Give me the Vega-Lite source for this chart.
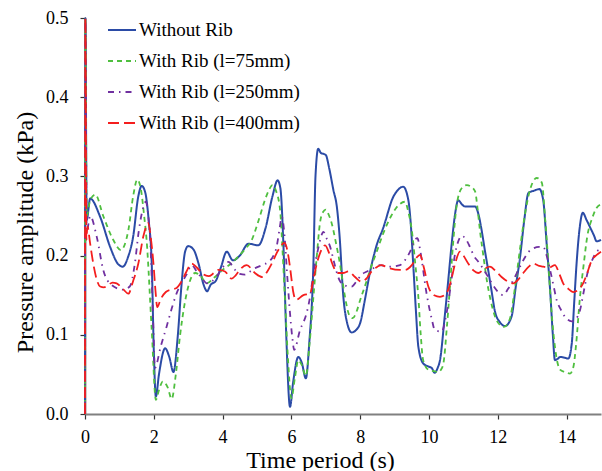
{
"$schema": "https://vega.github.io/schema/vega-lite/v6.json",
"width": 516,
"height": 396,
"autosize": {"type": "none"},
"padding": {"left": 85, "top": 18, "right": 1, "bottom": 57},
"background": "white",
"config": {"view": {"stroke": null}, "font": "Liberation Serif",
  "legend": {"labelFont": "Liberation Serif", "labelFontSize": 19, "labelColor": "black", "symbolType": "stroke", "symbolSize": 784, "symbolStrokeWidth": 1.8, "rowPadding": 6, "labelOffset": 2, "padding": 0, "labelLimit": 300}},
"datasets": {
"noRib": [{"t":0,"p":0},{"t":0.01,"p":0.5},{"t":0.05,"p":0.245},{"t":0.15,"p":0.272},{"t":0.44,"p":0.249},{"t":0.73,"p":0.211},{"t":0.95,"p":0.19},{"t":1.1,"p":0.186},{"t":1.25,"p":0.198},{"t":1.4,"p":0.224},{"t":1.55,"p":0.275},{"t":1.65,"p":0.288},{"t":1.75,"p":0.28},{"t":1.85,"p":0.245},{"t":1.94,"p":0.19},{"t":2.0,"p":0.08},{"t":2.06,"p":0.022},{"t":2.15,"p":0.05},{"t":2.33,"p":0.083},{"t":2.45,"p":0.072},{"t":2.57,"p":0.053},{"t":2.7,"p":0.1},{"t":2.8,"p":0.16},{"t":2.91,"p":0.205},{"t":3.0,"p":0.212},{"t":3.15,"p":0.208},{"t":3.3,"p":0.19},{"t":3.45,"p":0.163},{"t":3.55,"p":0.155},{"t":3.65,"p":0.163},{"t":3.8,"p":0.168},{"t":3.95,"p":0.185},{"t":4.12,"p":0.205},{"t":4.3,"p":0.194},{"t":4.5,"p":0.2},{"t":4.75,"p":0.215},{"t":5.04,"p":0.213},{"t":5.25,"p":0.235},{"t":5.45,"p":0.275},{"t":5.6,"p":0.295},{"t":5.68,"p":0.285},{"t":5.77,"p":0.211},{"t":5.85,"p":0.1},{"t":5.96,"p":0.009},{"t":6.05,"p":0.04},{"t":6.2,"p":0.072},{"t":6.3,"p":0.065},{"t":6.42,"p":0.045},{"t":6.52,"p":0.09},{"t":6.64,"p":0.19},{"t":6.7,"p":0.3},{"t":6.78,"p":0.335},{"t":6.85,"p":0.33},{"t":7.0,"p":0.327},{"t":7.1,"p":0.31},{"t":7.22,"p":0.283},{"t":7.32,"p":0.262},{"t":7.4,"p":0.225},{"t":7.51,"p":0.148},{"t":7.62,"p":0.115},{"t":7.75,"p":0.103},{"t":7.88,"p":0.106},{"t":8.0,"p":0.115},{"t":8.14,"p":0.145},{"t":8.28,"p":0.178},{"t":8.47,"p":0.212},{"t":8.67,"p":0.235},{"t":8.96,"p":0.274},{"t":9.1,"p":0.283},{"t":9.25,"p":0.287},{"t":9.4,"p":0.27},{"t":9.47,"p":0.24},{"t":9.54,"p":0.19},{"t":9.62,"p":0.13},{"t":9.69,"p":0.085},{"t":9.83,"p":0.064},{"t":9.98,"p":0.06},{"t":10.08,"p":0.058},{"t":10.16,"p":0.052},{"t":10.25,"p":0.058},{"t":10.32,"p":0.068},{"t":10.45,"p":0.12},{"t":10.56,"p":0.169},{"t":10.66,"p":0.215},{"t":10.76,"p":0.253},{"t":10.85,"p":0.27},{"t":10.95,"p":0.265},{"t":11.05,"p":0.262},{"t":11.2,"p":0.262},{"t":11.34,"p":0.262},{"t":11.45,"p":0.25},{"t":11.53,"p":0.232},{"t":11.63,"p":0.205},{"t":11.72,"p":0.182},{"t":11.82,"p":0.155},{"t":11.92,"p":0.129},{"t":12.06,"p":0.116},{"t":12.21,"p":0.111},{"t":12.4,"p":0.123},{"t":12.52,"p":0.16},{"t":12.65,"p":0.199},{"t":12.77,"p":0.245},{"t":12.89,"p":0.279},{"t":13.05,"p":0.282},{"t":13.21,"p":0.284},{"t":13.32,"p":0.27},{"t":13.42,"p":0.215},{"t":13.52,"p":0.157},{"t":13.6,"p":0.1},{"t":13.66,"p":0.068},{"t":13.75,"p":0.07},{"t":13.81,"p":0.072},{"t":13.95,"p":0.071},{"t":14.05,"p":0.07},{"t":14.15,"p":0.089},{"t":14.22,"p":0.14},{"t":14.29,"p":0.19},{"t":14.38,"p":0.235},{"t":14.47,"p":0.254},{"t":14.58,"p":0.245},{"t":14.68,"p":0.236},{"t":14.8,"p":0.225},{"t":14.87,"p":0.218},{"t":15,"p":0.22}],
"rib75": [{"t":0,"p":0},{"t":0.01,"p":0.5},{"t":0.05,"p":0.25},{"t":0.15,"p":0.27},{"t":0.3,"p":0.277},{"t":0.53,"p":0.25},{"t":0.82,"p":0.22},{"t":1.04,"p":0.207},{"t":1.26,"p":0.232},{"t":1.4,"p":0.275},{"t":1.52,"p":0.296},{"t":1.62,"p":0.285},{"t":1.72,"p":0.25},{"t":1.79,"p":0.22},{"t":1.94,"p":0.106},{"t":2.06,"p":0.018},{"t":2.15,"p":0.03},{"t":2.26,"p":0.041},{"t":2.4,"p":0.034},{"t":2.52,"p":0.019},{"t":2.64,"p":0.05},{"t":2.76,"p":0.098},{"t":2.9,"p":0.14},{"t":3.05,"p":0.168},{"t":3.2,"p":0.178},{"t":3.35,"p":0.175},{"t":3.54,"p":0.165},{"t":3.75,"p":0.172},{"t":4.0,"p":0.182},{"t":4.25,"p":0.19},{"t":4.46,"p":0.199},{"t":4.65,"p":0.208},{"t":4.85,"p":0.22},{"t":5.05,"p":0.245},{"t":5.23,"p":0.27},{"t":5.35,"p":0.283},{"t":5.45,"p":0.289},{"t":5.55,"p":0.282},{"t":5.67,"p":0.258},{"t":5.75,"p":0.2},{"t":5.81,"p":0.148},{"t":5.9,"p":0.07},{"t":6.0,"p":0.02},{"t":6.1,"p":0.045},{"t":6.2,"p":0.068},{"t":6.3,"p":0.062},{"t":6.42,"p":0.048},{"t":6.53,"p":0.09},{"t":6.64,"p":0.148},{"t":6.74,"p":0.2},{"t":6.83,"p":0.241},{"t":6.92,"p":0.255},{"t":7.0,"p":0.258},{"t":7.08,"p":0.252},{"t":7.17,"p":0.241},{"t":7.3,"p":0.215},{"t":7.41,"p":0.19},{"t":7.55,"p":0.15},{"t":7.68,"p":0.125},{"t":7.78,"p":0.121},{"t":7.9,"p":0.13},{"t":8.0,"p":0.144},{"t":8.15,"p":0.163},{"t":8.28,"p":0.181},{"t":8.48,"p":0.205},{"t":8.67,"p":0.228},{"t":8.9,"p":0.25},{"t":9.1,"p":0.263},{"t":9.3,"p":0.268},{"t":9.4,"p":0.255},{"t":9.5,"p":0.232},{"t":9.6,"p":0.19},{"t":9.69,"p":0.148},{"t":9.76,"p":0.1},{"t":9.83,"p":0.068},{"t":9.98,"p":0.056},{"t":10.15,"p":0.054},{"t":10.27,"p":0.053},{"t":10.35,"p":0.056},{"t":10.42,"p":0.064},{"t":10.52,"p":0.11},{"t":10.61,"p":0.161},{"t":10.7,"p":0.215},{"t":10.8,"p":0.262},{"t":10.95,"p":0.285},{"t":11.1,"p":0.289},{"t":11.22,"p":0.287},{"t":11.34,"p":0.281},{"t":11.41,"p":0.26},{"t":11.48,"p":0.232},{"t":11.58,"p":0.2},{"t":11.68,"p":0.169},{"t":11.8,"p":0.142},{"t":11.92,"p":0.123},{"t":12.05,"p":0.113},{"t":12.18,"p":0.11},{"t":12.35,"p":0.12},{"t":12.5,"p":0.16},{"t":12.65,"p":0.21},{"t":12.8,"p":0.255},{"t":12.95,"p":0.285},{"t":13.13,"p":0.298},{"t":13.28,"p":0.292},{"t":13.37,"p":0.25},{"t":13.47,"p":0.19},{"t":13.56,"p":0.13},{"t":13.66,"p":0.085},{"t":13.81,"p":0.056},{"t":13.95,"p":0.053},{"t":14.1,"p":0.051},{"t":14.2,"p":0.06},{"t":14.27,"p":0.085},{"t":14.39,"p":0.148},{"t":14.5,"p":0.19},{"t":14.6,"p":0.224},{"t":14.75,"p":0.248},{"t":14.87,"p":0.26},{"t":15,"p":0.265}],
"rib250": [{"t":0,"p":0},{"t":0.01,"p":0.5},{"t":0.05,"p":0.23},{"t":0.15,"p":0.25},{"t":0.34,"p":0.224},{"t":0.53,"p":0.182},{"t":0.77,"p":0.163},{"t":1.11,"p":0.157},{"t":1.3,"p":0.161},{"t":1.45,"p":0.19},{"t":1.56,"p":0.23},{"t":1.65,"p":0.253},{"t":1.77,"p":0.268},{"t":1.84,"p":0.25},{"t":1.89,"p":0.224},{"t":1.99,"p":0.106},{"t":2.03,"p":0.058},{"t":2.2,"p":0.085},{"t":2.37,"p":0.11},{"t":2.5,"p":0.13},{"t":2.66,"p":0.152},{"t":2.8,"p":0.165},{"t":2.95,"p":0.176},{"t":3.1,"p":0.188},{"t":3.25,"p":0.18},{"t":3.44,"p":0.169},{"t":3.54,"p":0.165},{"t":3.7,"p":0.168},{"t":3.83,"p":0.174},{"t":4.0,"p":0.185},{"t":4.17,"p":0.192},{"t":4.36,"p":0.182},{"t":4.5,"p":0.177},{"t":4.65,"p":0.176},{"t":4.8,"p":0.18},{"t":4.94,"p":0.184},{"t":5.15,"p":0.188},{"t":5.33,"p":0.192},{"t":5.48,"p":0.2},{"t":5.57,"p":0.211},{"t":5.66,"p":0.235},{"t":5.72,"p":0.249},{"t":5.8,"p":0.225},{"t":5.87,"p":0.18},{"t":5.96,"p":0.127},{"t":6.03,"p":0.095},{"t":6.08,"p":0.081},{"t":6.25,"p":0.106},{"t":6.44,"p":0.127},{"t":6.55,"p":0.15},{"t":6.64,"p":0.178},{"t":6.76,"p":0.205},{"t":6.85,"p":0.222},{"t":6.93,"p":0.23},{"t":7.02,"p":0.222},{"t":7.12,"p":0.212},{"t":7.25,"p":0.19},{"t":7.36,"p":0.173},{"t":7.51,"p":0.163},{"t":7.75,"p":0.161},{"t":7.9,"p":0.168},{"t":8.04,"p":0.176},{"t":8.2,"p":0.18},{"t":8.38,"p":0.184},{"t":8.57,"p":0.188},{"t":8.87,"p":0.186},{"t":9.16,"p":0.188},{"t":9.3,"p":0.194},{"t":9.45,"p":0.205},{"t":9.59,"p":0.22},{"t":9.66,"p":0.222},{"t":9.75,"p":0.205},{"t":9.83,"p":0.182},{"t":9.9,"p":0.16},{"t":9.98,"p":0.14},{"t":10.08,"p":0.12},{"t":10.17,"p":0.106},{"t":10.37,"p":0.104},{"t":10.47,"p":0.118},{"t":10.56,"p":0.14},{"t":10.66,"p":0.172},{"t":10.76,"p":0.203},{"t":10.85,"p":0.218},{"t":10.95,"p":0.225},{"t":11.05,"p":0.222},{"t":11.19,"p":0.211},{"t":11.3,"p":0.2},{"t":11.44,"p":0.192},{"t":11.58,"p":0.183},{"t":11.72,"p":0.173},{"t":11.9,"p":0.16},{"t":12.06,"p":0.152},{"t":12.15,"p":0.15},{"t":12.3,"p":0.158},{"t":12.45,"p":0.169},{"t":12.6,"p":0.182},{"t":12.74,"p":0.194},{"t":12.9,"p":0.205},{"t":13.03,"p":0.209},{"t":13.2,"p":0.211},{"t":13.32,"p":0.211},{"t":13.42,"p":0.2},{"t":13.52,"p":0.182},{"t":13.62,"p":0.162},{"t":13.71,"p":0.144},{"t":13.83,"p":0.132},{"t":13.95,"p":0.123},{"t":14.15,"p":0.117},{"t":14.27,"p":0.12},{"t":14.39,"p":0.131},{"t":14.5,"p":0.155},{"t":14.63,"p":0.182},{"t":14.75,"p":0.195},{"t":14.87,"p":0.205},{"t":15,"p":0.208}],
"rib400": [{"t":0,"p":0},{"t":0.01,"p":0.5},{"t":0.04,"p":0.22},{"t":0.07,"p":0.237},{"t":0.15,"p":0.215},{"t":0.24,"p":0.19},{"t":0.34,"p":0.17},{"t":0.44,"p":0.161},{"t":0.55,"p":0.16},{"t":0.68,"p":0.163},{"t":0.8,"p":0.166},{"t":0.92,"p":0.165},{"t":1.1,"p":0.158},{"t":1.26,"p":0.152},{"t":1.4,"p":0.168},{"t":1.55,"p":0.19},{"t":1.7,"p":0.225},{"t":1.84,"p":0.241},{"t":1.92,"p":0.22},{"t":1.99,"p":0.19},{"t":2.05,"p":0.155},{"t":2.1,"p":0.135},{"t":2.2,"p":0.145},{"t":2.35,"p":0.154},{"t":2.5,"p":0.157},{"t":2.66,"p":0.159},{"t":2.8,"p":0.167},{"t":2.95,"p":0.18},{"t":3.1,"p":0.19},{"t":3.25,"p":0.185},{"t":3.39,"p":0.178},{"t":3.59,"p":0.174},{"t":3.75,"p":0.178},{"t":3.88,"p":0.182},{"t":4.07,"p":0.18},{"t":4.26,"p":0.171},{"t":4.38,"p":0.175},{"t":4.5,"p":0.182},{"t":4.7,"p":0.188},{"t":4.94,"p":0.178},{"t":5.14,"p":0.173},{"t":5.3,"p":0.18},{"t":5.43,"p":0.19},{"t":5.62,"p":0.207},{"t":5.8,"p":0.216},{"t":5.91,"p":0.2},{"t":5.97,"p":0.182},{"t":6.05,"p":0.155},{"t":6.13,"p":0.144},{"t":6.35,"p":0.15},{"t":6.54,"p":0.152},{"t":6.64,"p":0.17},{"t":6.74,"p":0.19},{"t":6.85,"p":0.205},{"t":6.98,"p":0.213},{"t":7.08,"p":0.205},{"t":7.17,"p":0.192},{"t":7.36,"p":0.178},{"t":7.5,"p":0.178},{"t":7.66,"p":0.18},{"t":7.85,"p":0.173},{"t":8.04,"p":0.167},{"t":8.2,"p":0.172},{"t":8.33,"p":0.18},{"t":8.5,"p":0.186},{"t":8.62,"p":0.188},{"t":8.75,"p":0.186},{"t":8.87,"p":0.184},{"t":9.16,"p":0.182},{"t":9.3,"p":0.182},{"t":9.5,"p":0.188},{"t":9.65,"p":0.198},{"t":9.74,"p":0.201},{"t":9.85,"p":0.185},{"t":9.98,"p":0.161},{"t":10.15,"p":0.15},{"t":10.32,"p":0.148},{"t":10.45,"p":0.15},{"t":10.56,"p":0.157},{"t":10.66,"p":0.172},{"t":10.76,"p":0.19},{"t":10.9,"p":0.205},{"t":11.0,"p":0.2},{"t":11.14,"p":0.19},{"t":11.3,"p":0.181},{"t":11.43,"p":0.178},{"t":11.6,"p":0.183},{"t":11.77,"p":0.186},{"t":11.95,"p":0.18},{"t":12.11,"p":0.173},{"t":12.3,"p":0.167},{"t":12.45,"p":0.165},{"t":12.6,"p":0.17},{"t":12.74,"p":0.178},{"t":12.9,"p":0.186},{"t":13.03,"p":0.19},{"t":13.2,"p":0.187},{"t":13.32,"p":0.186},{"t":13.5,"p":0.185},{"t":13.66,"p":0.188},{"t":13.78,"p":0.178},{"t":13.9,"p":0.165},{"t":14.05,"p":0.158},{"t":14.19,"p":0.154},{"t":14.35,"p":0.157},{"t":14.48,"p":0.165},{"t":14.6,"p":0.178},{"t":14.73,"p":0.194},{"t":14.85,"p":0.2},{"t":15,"p":0.205}]
},
"encoding": {
  "x": {"field": "t", "type": "quantitative",
    "scale": {"domain": [0, 15], "nice": false, "zero": false},
    "axis": {"values": [0, 2, 4, 6, 8, 10, 12, 14], "format": "d", "title": "Time period (s)",
      "titleFontSize": 24, "titleFontWeight": "normal", "titleColor": "black", "titleFont": "Liberation Serif",
      "titleX": 235, "titleY": 53, "titleBaseline": "alphabetic",
      "labelFontSize": 18, "labelColor": "black", "labelFont": "Liberation Serif", "labelPadding": 9,
      "tickSize": 5, "tickColor": "#333333", "tickWidth": 1.2,
      "domainColor": "#808080", "domainWidth": 1.8, "grid": false, "labelFlush": false}},
  "y": {"field": "p", "type": "quantitative",
    "scale": {"domain": [0, 0.5], "nice": false},
    "axis": {"values": [0, 0.1, 0.2, 0.3, 0.4, 0.5], "format": ".1f", "title": "Pressure amplitude (kPa)",
      "titleFontSize": 24, "titleFontWeight": "normal", "titleColor": "black", "titleFont": "Liberation Serif",
      "titleX": -53, "titleY": 214, "titleBaseline": "alphabetic", "titleAngle": -90, "titleAlign": "center",
      "labelFontSize": 18, "labelColor": "black", "labelFont": "Liberation Serif", "labelPadding": 12,
      "tickSize": 5, "tickColor": "#333333", "tickWidth": 1.2,
      "domainColor": "#808080", "domainWidth": 1.8, "grid": false, "labelFlush": false}}
},
"layer": [
  {"data": {"name": "noRib"}, "mark": {"type": "line", "interpolate": "monotone", "strokeWidth": 2},
   "encoding": {
     "color": {"datum": "Without Rib", "type": "nominal",
       "scale": {"domain": ["Without Rib", "With Rib (l=75mm)", "With Rib (l=250mm)", "With Rib (l=400mm)"], "range": ["#2b4ba6", "#4fbf3f", "#7030a0", "#f41e1e"]},
       "legend": {"orient": "none", "legendX": 22, "legendY": -3, "title": null}},
     "strokeDash": {"datum": "Without Rib", "type": "nominal",
       "scale": {"domain": ["Without Rib", "With Rib (l=75mm)", "With Rib (l=250mm)", "With Rib (l=400mm)"], "range": [[1, 0], [5, 4], [6, 5, 1.5, 5], [11, 5]]},
       "legend": {"orient": "none", "legendX": 22, "legendY": -3, "title": null}}}},
  {"data": {"name": "rib75"}, "mark": {"type": "line", "interpolate": "monotone", "strokeWidth": 1.8},
   "encoding": {"color": {"datum": "With Rib (l=75mm)", "type": "nominal"}, "strokeDash": {"datum": "With Rib (l=75mm)", "type": "nominal"}}},
  {"data": {"name": "rib250"}, "mark": {"type": "line", "interpolate": "monotone", "strokeWidth": 1.8},
   "encoding": {"color": {"datum": "With Rib (l=250mm)", "type": "nominal"}, "strokeDash": {"datum": "With Rib (l=250mm)", "type": "nominal"}}},
  {"data": {"name": "rib400"}, "mark": {"type": "line", "interpolate": "monotone", "strokeWidth": 1.8},
   "encoding": {"color": {"datum": "With Rib (l=400mm)", "type": "nominal"}, "strokeDash": {"datum": "With Rib (l=400mm)", "type": "nominal"}}}
]
}
